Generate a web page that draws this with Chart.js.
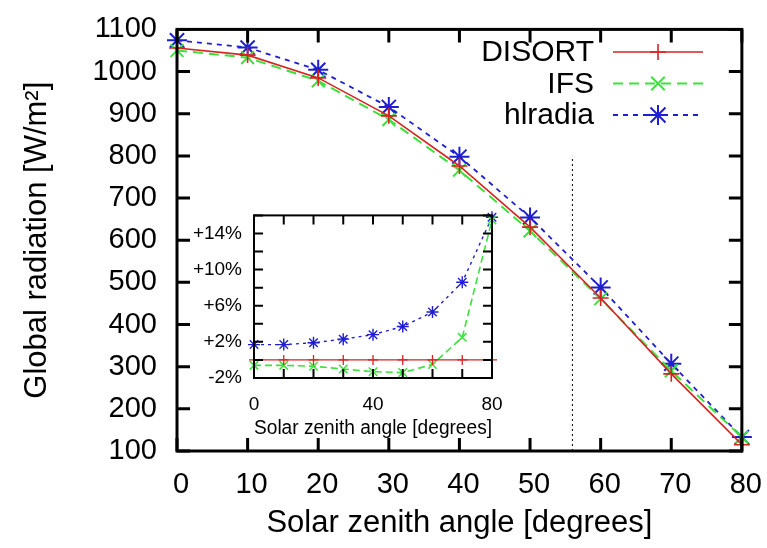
<!DOCTYPE html>
<html>
<head>
<meta charset="utf-8">
<script src="https://cdn.jsdelivr.net/npm/chart.js@4/dist/chart.umd.min.js"></script>
<style>
  html, body { margin: 0; padding: 0; background: #fff; }
  #wrap { position: relative; width: 767px; height: 548px; }
  #mainChart { position: absolute; left: 0; top: 0; }
  #insetChart { position: absolute; left: 190px; top: 200px; }
</style>
</head>
<body>
<div id="wrap">
  <canvas id="mainChart" width="767" height="548"></canvas>
  <canvas id="insetChart" width="320" height="250"></canvas>
</div>
<script>
// ========================
// Data
// ========================
const angles = [0, 10, 20, 30, 40, 50, 60, 70, 80];
const disort = [1056, 1039, 985, 895, 776, 631, 463, 283, 115];
const ifs = [1050, 1033, 978, 886, 766, 622, 461, 290, 133];
const hlradia = [1074, 1057, 1004, 916, 798, 654, 488, 307, 133];

// inset: relative difference to DISORT in %
const insetDisort = [0, 0, 0, 0, 0, 0, 0, 0, 0];
const insetIfs = [-0.6, -0.6, -0.7, -1.0, -1.3, -1.4, -0.5, 2.5, 15.5];
const insetHlradia = [1.7, 1.7, 1.9, 2.3, 2.8, 3.7, 5.3, 8.6, 15.8];

// dotted vertical marker line
const markerAngle = [56, 56];
const markerValue = [100, 800];

const seriesNames = ['DISORT', 'IFS', 'hlradia'];
const FONT = "'Liberation Sans', Arial, sans-serif";

const RED = 'rgb(215,35,35)';
const GREEN = 'rgb(60,225,60)';
const BLUE = 'rgb(30,30,210)';

function pts(xs, ys) {
    return xs.map((x, i) => ({ x: x, y: ys[i] }));
}

// draw gnuplot-ish point symbols
function drawSymbol(ctx, style, x, y, r) {
    ctx.beginPath();
    if (style === 'cross' || style === 'star') {
        ctx.moveTo(x - r, y); ctx.lineTo(x + r, y);
        ctx.moveTo(x, y - r); ctx.lineTo(x, y + r);
    }
    if (style === 'crossRot' || style === 'star') {
        const d = r * 0.75;
        ctx.moveTo(x - d, y - d); ctx.lineTo(x + d, y + d);
        ctx.moveTo(x - d, y + d); ctx.lineTo(x + d, y - d);
    }
    ctx.stroke();
}

// ========================
// Frame with inward ticks (all four sides)
// ========================
const framePlugin = {
    id: 'frame',
    afterDraw(chart, args, opts) {
        const { ctx, chartArea: a, scales } = chart;
        ctx.save();
        ctx.strokeStyle = '#000';
        ctx.lineWidth = opts.width;
        ctx.lineCap = 'butt';
        ctx.beginPath();
        scales.x.ticks.forEach(t => {
            const px = scales.x.getPixelForValue(t.value);
            ctx.moveTo(px, a.bottom); ctx.lineTo(px, a.bottom - opts.tick);
            ctx.moveTo(px, a.top); ctx.lineTo(px, a.top + opts.tick);
        });
        scales.y.ticks.forEach(t => {
            const py = scales.y.getPixelForValue(t.value);
            ctx.moveTo(a.left, py); ctx.lineTo(a.left + opts.tick, py);
            ctx.moveTo(a.right, py); ctx.lineTo(a.right - opts.tick, py);
        });
        ctx.stroke();
        ctx.strokeRect(a.left, a.top, a.right - a.left, a.bottom - a.top);
        ctx.restore();
    }
};

// ========================
// Key (legend) in gnuplot style
// ========================
const keyPlugin = {
    id: 'gnukey',
    afterDraw(chart, args, opts) {
        if (!opts.show) return;
        const { ctx } = chart;
        ctx.save();
        ctx.font = '30px ' + FONT;
        ctx.textAlign = 'right';
        ctx.textBaseline = 'middle';
        seriesNames.forEach((name, i) => {
            const ds = chart.data.datasets[i];
            const y = opts.y0 + i * opts.dy;
            ctx.fillStyle = '#000';
            ctx.fillText(name, opts.textRight, y + 1);
            ctx.strokeStyle = ds.borderColor;
            ctx.lineWidth = ds.borderWidth;
            ctx.setLineDash(ds.borderDash || []);
            ctx.beginPath();
            ctx.moveTo(opts.lineX0, y);
            ctx.lineTo(opts.lineX1, y);
            ctx.stroke();
            ctx.setLineDash([]);
            ctx.lineWidth = ds.pointBorderWidth;
            drawSymbol(ctx, ds.pointStyle, (opts.lineX0 + opts.lineX1) / 2, y, ds.pointRadius);
        });
        ctx.restore();
    }
};

function makeSeries(data, color, dash, style, radius, width, pw) {
    return {
        data: data,
        borderColor: color,
        backgroundColor: color,
        borderWidth: width,
        borderDash: dash,
        pointStyle: style,
        pointRadius: radius,
        pointBorderColor: color,
        pointBorderWidth: pw,
        pointHoverRadius: radius,
        tension: 0,
        clip: false
    };
}

// ========================
// Main chart
// ========================
new Chart(document.getElementById('mainChart'), {
    type: 'line',
    data: {
        datasets: [
            makeSeries(pts(angles, disort), RED, [], 'cross', 8, 1.6, 1.6),
            makeSeries(pts(angles, ifs), GREEN, [10, 6], 'crossRot', 9, 2, 2),
            makeSeries(pts(angles, hlradia), BLUE, [5, 5], 'star', 10, 1.8, 2),
            {
                data: pts(markerAngle, markerValue),
                borderColor: '#000',
                borderWidth: 1,
                borderDash: [2, 3],
                pointRadius: 0,
                clip: false
            }
        ]
    },
    options: {
        responsive: false,
        animation: false,
        events: [],
        layout: { padding: { top: 23, right: 25, left: 0, bottom: 0 } },
        plugins: {
            legend: { display: false },
            tooltip: { enabled: false },
            frame: { width: 3, tick: 13 },
            gnukey: { show: true, textRight: 594, lineX0: 613, lineX1: 703, y0: 52, dy: 31.5 }
        },
        scales: {
            x: {
                type: 'linear',
                min: 0, max: 80,
                grid: { display: false },
                border: { display: false },
                ticks: { stepSize: 10, autoSkip: false, maxRotation: 0, padding: 9, labelOffset: 4, color: '#000', font: { family: FONT, size: 29 } },
                title: { display: true, text: 'Solar zenith angle [degrees]', color: '#000', font: { family: FONT, size: 31 }, padding: { top: 0, bottom: 6 } },
                afterFit(scale) { scale.height = 97; }
            },
            y: {
                min: 100, max: 1100,
                grid: { display: false },
                border: { display: false },
                ticks: {
                    stepSize: 100, autoSkip: false, padding: 12, color: '#000',
                    font: { family: FONT, size: 29 },
                    callback: v => String(v)
                },
                title: { display: true, text: 'Global radiation [W/m²]', color: '#000', font: { family: FONT, size: 31 }, padding: { top: 19, bottom: 0 } },
                afterFit(scale) { scale.width = 177; }
            }
        }
    },
    plugins: [framePlugin, keyPlugin]
});

// ========================
// Inset chart (relative difference)
// ========================
new Chart(document.getElementById('insetChart'), {
    type: 'line',
    data: {
        datasets: [
            makeSeries(pts(angles, insetDisort), RED, [], 'cross', 5, 1.3, 1.3),
            makeSeries(pts(angles, insetIfs), GREEN, [7, 4], 'crossRot', 6, 1.6, 1.5),
            makeSeries(pts(angles, insetHlradia), BLUE, [3, 4], 'star', 6, 1.4, 1.4)
        ]
    },
    options: {
        responsive: false,
        animation: false,
        events: [],
        layout: { padding: { top: 14, right: 18, left: 0, bottom: 0 } },
        plugins: {
            legend: { display: false },
            tooltip: { enabled: false },
            frame: { width: 2, tick: 9 },
            gnukey: { show: false }
        },
        scales: {
            x: {
                type: 'linear',
                min: 0, max: 80,
                grid: { display: false },
                border: { display: false },
                ticks: {
                    stepSize: 10, autoSkip: false, maxRotation: 0, padding: 7, color: '#000',
                    font: { family: FONT, size: 19 },
                    callback: v => (v % 40 === 0 ? String(v) : '')
                },
                title: { display: true, text: 'Solar zenith angle [degrees]', color: '#000', font: { family: FONT, size: 20 }, padding: { top: 0, bottom: 10 } },
                afterFit(scale) { scale.height = 72; }
            },
            y: {
                min: -2, max: 16,
                grid: { display: false },
                border: { display: false },
                ticks: {
                    stepSize: 2, autoSkip: false, padding: 4, color: '#000',
                    font: { family: FONT, size: 19 },
                    callback: v => ((v + 2) % 4 === 0 && v <= 14 ? (v > 0 ? '+' : '') + v + '%' : '')
                },
                afterFit(scale) { scale.width = 64; }
            }
        }
    },
    plugins: [framePlugin, keyPlugin]
});
</script>
</body>
</html>
